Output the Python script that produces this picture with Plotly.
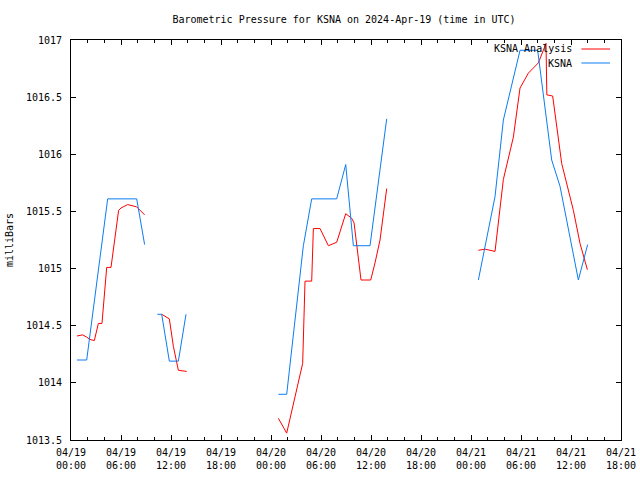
import plotly.graph_objects as go

# ---- data ----
ksna_times = [
    "2024-04-19 00:43", "2024-04-19 01:53", "2024-04-19 04:24", "2024-04-19 07:53", "2024-04-19 08:50",
    None,
    "2024-04-19 10:22", "2024-04-19 10:53", "2024-04-19 11:48", "2024-04-19 12:53", "2024-04-19 13:48",
    None,
    "2024-04-20 00:53", "2024-04-20 01:53", "2024-04-20 03:53", "2024-04-20 04:53", "2024-04-20 07:53",
    "2024-04-20 08:58", "2024-04-20 09:53", "2024-04-20 11:53", "2024-04-20 13:53",
    None,
    "2024-04-21 00:53", "2024-04-21 02:53", "2024-04-21 03:53", "2024-04-21 05:53", "2024-04-21 08:00",
    "2024-04-21 09:41", "2024-04-21 10:41", "2024-04-21 11:53", "2024-04-21 12:53", "2024-04-21 14:00",
]
ksna_values = [
    1014.20, 1014.20, 1015.61, 1015.61, 1015.21,
    None,
    1014.60, 1014.60, 1014.19, 1014.19, 1014.60,
    None,
    1013.90, 1013.90, 1015.20, 1015.61, 1015.61,
    1015.91, 1015.20, 1015.20, 1016.31,
    None,
    1014.90, 1015.63, 1016.30, 1016.91, 1016.91,
    1015.95, 1015.72, 1015.28, 1014.90, 1015.21,
]

analysis_times = [
    "2024-04-19 00:43", "2024-04-19 01:24", "2024-04-19 01:53", "2024-04-19 02:17", "2024-04-19 02:48",
    "2024-04-19 03:17", "2024-04-19 03:43", "2024-04-19 04:17", "2024-04-19 04:48", "2024-04-19 05:43",
    "2024-04-19 06:00", "2024-04-19 06:48", "2024-04-19 07:53", "2024-04-19 08:50",
    None,
    "2024-04-19 10:53", "2024-04-19 11:17", "2024-04-19 11:48", "2024-04-19 12:17", "2024-04-19 12:53",
    "2024-04-19 13:53",
    None,
    "2024-04-20 00:53", "2024-04-20 01:53", "2024-04-20 03:48", "2024-04-20 04:00", "2024-04-20 04:05",
    "2024-04-20 04:53", "2024-04-20 05:05", "2024-04-20 05:53", "2024-04-20 06:53", "2024-04-20 07:53",
    "2024-04-20 08:58", "2024-04-20 09:41", "2024-04-20 09:58", "2024-04-20 10:48", "2024-04-20 11:58",
    "2024-04-20 12:29", "2024-04-20 13:05", "2024-04-20 13:53",
    None,
    "2024-04-21 00:53", "2024-04-21 01:41", "2024-04-21 02:53", "2024-04-21 03:53", "2024-04-21 05:05",
    "2024-04-21 05:53", "2024-04-21 06:53", "2024-04-21 08:05", "2024-04-21 09:00", "2024-04-21 09:06",
    "2024-04-21 09:48", "2024-04-21 10:36", "2024-04-21 10:53", "2024-04-21 12:17", "2024-04-21 13:05",
    "2024-04-21 13:58",
]
analysis_values = [
    1014.41, 1014.42, 1014.40, 1014.38, 1014.37,
    1014.52, 1014.52, 1015.01, 1015.01, 1015.51,
    1015.53, 1015.56, 1015.54, 1015.47,
    None,
    1014.60, 1014.58, 1014.56, 1014.32, 1014.11,
    1014.10,
    None,
    1013.69, 1013.56, 1014.17, 1014.73, 1014.89,
    1014.89, 1015.35, 1015.35, 1015.20, 1015.23,
    1015.48, 1015.44, 1015.40, 1014.90, 1014.90,
    1015.05, 1015.25, 1015.70,
    None,
    1015.16, 1015.17, 1015.15, 1015.78, 1016.15,
    1016.58, 1016.71, 1016.80, 1016.97, 1016.52,
    1016.51, 1016.07, 1015.92, 1015.51, 1015.22,
    1014.99,
]

series_names = ["KSNA Analysis", "KSNA"]
series_colors = ["#ff0000", "#0a7cf0"]

y_ticks = [1013.5, 1014, 1014.5, 1015, 1015.5, 1016, 1016.5, 1017]
y_tick_labels = ["1013.5", "1014", "1014.5", "1015", "1015.5", "1016", "1016.5", "1017"]

FONT = "DejaVu Sans Mono"

fig = go.Figure()
fig.add_trace(go.Scatter(x=analysis_times, y=analysis_values, mode="lines",
                         name=series_names[0], connectgaps=False,
                         line=dict(color=series_colors[0], width=1)))
fig.add_trace(go.Scatter(x=ksna_times, y=ksna_values, mode="lines",
                         name=series_names[1], connectgaps=False,
                         line=dict(color=series_colors[1], width=1)))

# legend drawn gnuplot-style: text right-aligned, line sample to its right
leg_rows = [(0.9775, series_names[0], series_colors[0]), (0.9425, series_names[1], series_colors[1])]
for yy, name, col in leg_rows:
    fig.add_annotation(x=0.915, y=yy, xref="paper", yref="paper", text=name,
                       showarrow=False, xanchor="right", yanchor="middle",
                       font=dict(family=FONT, size=10, color="black"))
    fig.add_shape(type="line", xref="paper", yref="paper", x0=0.928, x1=0.98, y0=yy, y1=yy,
                  line=dict(color=col, width=1))

fig.update_layout(
    width=640, height=480,
    margin=dict(l=71, r=19, t=40, b=40, autoexpand=False),
    paper_bgcolor="white", plot_bgcolor="white",
    showlegend=False,
    font=dict(family=FONT, size=10, color="black"),
    title=dict(text="Barometric Pressure for KSNA on 2024-Apr-19 (time in UTC)",
               x=0.5375, xanchor="center", y=0.96, yanchor="middle", automargin=False,
               font=dict(family=FONT, size=10, color="black")),
    xaxis=dict(
        type="date", automargin=False,
        range=["2024-04-19 00:00", "2024-04-21 18:00"],
        tick0="2024-04-19 00:00", dtick=6 * 3600 * 1000,
        tickformat="%m/%d<br>%H:%M",
        ticks="inside", ticklen=5, tickcolor="black", tickwidth=1,
        showline=True, linecolor="black", linewidth=1, mirror="ticks",
        showgrid=False, zeroline=False,
        ticklabelstandoff=3,
        minor=dict(dtick=2 * 3600 * 1000, ticks="inside", ticklen=3, tickcolor="black", showgrid=False),
        tickfont=dict(family=FONT, size=10, color="black"),
    ),
    yaxis=dict(
        automargin=False,
        range=[1013.5, 1017],
        tickvals=y_ticks, ticktext=y_tick_labels,
        ticks="inside", ticklen=5, tickcolor="black", tickwidth=1,
        showline=True, linecolor="black", linewidth=1, mirror="ticks",
        showgrid=False, zeroline=False,
        ticklabelstandoff=6,
        title=dict(text="milliBars", standoff=10, font=dict(family=FONT, size=10, color="black")),
        tickfont=dict(family=FONT, size=10, color="black"),
    ),
)

fig.write_html("out.html", config={"displayModeBar": False},
               post_script="document.body.style.margin='0px';document.body.style.overflow='hidden';")
